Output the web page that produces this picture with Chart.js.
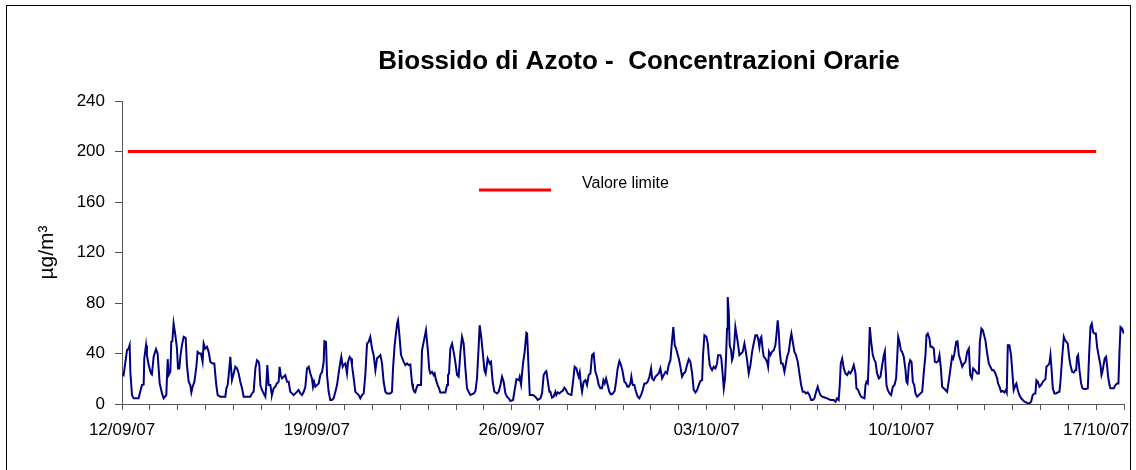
<!DOCTYPE html>
<html>
<head>
<meta charset="utf-8">
<script src="https://cdn.jsdelivr.net/npm/chart.js@4.4.0/dist/chart.umd.min.js"></script>
<style>
    html, body { margin: 0; padding: 0; background: #fff; }
    canvas { display: block; }
</style>
</head>
<body>
<canvas id="myChart" width="1136" height="470"></canvas>
<script>
const FONT = 'Arial, "Liberation Sans", sans-serif';

// hours since 12/09/07 00:00 (turning points of the trace)
const hours = [
    // week 1
    0.0,1.4,4.3,5.7,6.6,7.2,8.6,10.0,14.3,17.2,18.7,19.2,20.7,21.5,23.0,25.0,25.8,27.3,29.3,30.7,32.5,34.5,35.9,38.2,39.4,40.2,41.7,42.5,43.4,44.5,46.0,47.4,48.3,49.4,50.3,51.7,53.2,54.9,56.0,57.5,58.9,59.8,60.9,62.4,64.1,65.2,66.7,68.1,69.5,70.4,71.8,73.3,74.7,76.2,78.2,79.6,81.3,82.5,84.8,89.1,90.0,91.1,92.0,93.4,94.8,96.3,97.7,99.2,100.6,102.0,103.5,104.9,110.7,112.1,113.5,115.0,116.4,117.8,
    118.4,119.3,120.7,122.1,123.6,124.4,125.3,126.5,127.9,128.8,129.3,130.8,132.2,133.6,135.1,135.9,136.8,137.9,139.4,140.8,142.3,143.7,145.1,146.6,148.0,149.5,150.9,152.3,153.8,155.2,156.7,158.1,159.5,161.0,162.4,163.8,164.7,165.6,166.7,168.2,169.6,171.0,172.5,173.9,174.5,175.9,176.8,178.2,179.6,181.1,182.5,184.0,185.4,186.8,188.3,189.1,190.3,191.1,192.6,194.0,194.9,196.3,197.5,198.3,199.8,201.2,202.6,204.1,205.5,207.0,208.4,209.8,211.3,212.7,214.1,215.6,217.0,218.5,219.9,221.3,222.8,224.2,225.6,227.1,228.5,231.4,232.8,233.7,235.1,237.2,238.0,239.2,240.6,
    242.9,244.3,245.8,247.2,248.6,250.1,250.9,252.1,252.9,253.8,255.0,257.8,258.7,260.7,262.1,263.6,265.0,265.9,267.3,268.8,269.6,270.8,272.2,273.4,274.5,278.8,280.3,281.1,282.0,283.1,284.6,286.0,287.4,288.9,290.3,291.8,293.2,294.6,296.1,297.5,298.9,300.4,303.3,304.7,306.1,307.6,308.4,309.9,311.3,312.5,313.6,315.3,317.1,318.2,319.6,321.1,323.4,324.8,326.3,327.7,329.1,330.6,332.0,333.4,334.9,337.2,338.6,340.1,342.1,342.9,344.1,345.8,347.2,348.7,349.3,351.6,354.4,356.4,358.5,360.8,362.2,363.6,365.1,365.9,368.5,
    369.4,370.8,372.2,373.7,374.5,375.7,377.1,378.6,380.0,381.4,382.9,384.3,385.8,387.5,388.9,390.3,391.8,392.9,393.8,394.7,395.8,396.7,398.1,399.6,401.0,402.4,403.9,405.3,406.7,408.2,409.6,411.1,412.5,413.9,415.1,416.2,417.4,418.8,420.2,421.7,423.4,424.8,426.0,427.4,428.9,430.3,431.7,433.2,434.6,435.8,436.9,438.4,439.2,440.4,441.8,443.2,444.7,446.1,447.6,449.0,450.4,451.9,453.3,454.8,456.2,457.1,458.5,459.9,461.4,462.8,464.2,465.7,467.1,468.6,470.0,471.4,472.9,474.3,475.4,476.6,477.8,478.9,480.1,481.5,482.9,484.4,485.8,487.2,488.7,490.1,491.6,493.0,
    493.6,494.4,495.9,497.3,498.7,500.2,501.0,502.2,503.9,505.1,505.9,506.8,507.9,508.8,510.2,511.7,513.1,514.0,516.0,516.8,518.0,518.9,520.0,520.9,521.7,522.3,523.2,524.0,525.2,526.0,526.9,528.0,528.9,529.8,530.9,532.4,533.8,535.2,536.7,537.5,539.0,540.4,541.9,543.3,544.7,546.2,547.6,548.5,549.6,550.5,551.3,552.5,553.4,554.8,556.2,557.1,557.9,559.1,560.5,562.0,563.4,564.3,565.4,566.3,567.2,568.3,569.7,571.2,572.0,573.5,574.9,576.4,577.2,578.4,579.8,581.2,582.7,584.1,585.6,587.0,588.4,589.9,591.3,592.7,594.2,595.6,597.1,598.5,599.9,601.1,602.2,603.7,606.5,609.4,610.9,613.7,615.2,616.6,618.0,
    618.9,619.8,621.0,622.4,623.8,625.3,626.7,628.1,629.6,631.0,632.5,633.3,634.8,635.9,637.3,638.8,640.2,641.1,641.9,643.1,643.9,644.8,646.0,647.4,648.8,649.7,651.1,652.6,654.0,655.5,656.9,657.8,658.3,659.2,660.3,661.8,663.2,664.7,666.1,667.5,668.4,669.3,670.4,671.6,672.7,674.1,675.6,676.4,677.3,678.5,679.6,680.8,681.9,683.1,684.2,685.6,687.1,688.5,690.0,691.4,692.8,693.7,694.8,696.3,697.1,698.6,700.0,700.9,702.3,703.8,704.9,706.1,707.2,708.6,710.1,711.5,713.0,714.4,715.8,716.7,717.8,719.3,720.4,721.6,723.0,724.5,725.9,727.3,728.8,730.2,731.4,732.8,733.9,735.4,737.4,738.8,739.7,741.1,742.3,743.7,
    744.5,745.4,746.5,747.4,748.8,750.3,751.7,753.1,754.6,755.4,756.6,758.0,759.5,760.9,762.1,762.9,763.8,765.2,766.6,767.8,768.9,770.4,771.2,772.4,773.8,775.3,776.7,778.2,779.6,781.0,782.5,783.9,785.3,786.8,787.6,788.5,789.7,791.1,792.5,794.0,795.4,796.3,797.1,798.6,799.7,800.6,801.4,802.6,804.0,805.5,806.9,808.3,809.2,810.6,812.1,813.2,814.4,815.5,816.7,817.8,819.3,820.7,821.9,822.7,823.6,824.4,825.6,827.0,828.2,829.6,831.1,832.8,833.9,835.1,836.2,837.4,838.5,839.7,840.8,842.3,843.7,844.6,845.4,846.6,847.4,848.6,849.5,850.3,851.5,852.3,853.8,855.2,856.6,858.1,859.2,860.1,861.0,862.4,863.3,864.0
];

// NO2 hourly concentration, µg/m3
const no2Values = [
    24.2,22.9,42.6,43.9,46.6,25.5,7.1,4.5,4.5,15,15.5,36,46.6,38.7,30.8,24.2,23.4,37.4,43.4,40,16.3,8.4,4.5,7.1,35.5,22.9,25.5,49.2,49.7,63.7,54.5,43.9,28.2,28.2,37.4,46.6,53.2,52.4,30.8,17.6,15,9.2,13.7,17.6,29.5,41.3,40,40,33.4,47.9,43.9,45.3,41.3,33.4,32.1,32.1,15,7.1,5.8,5.8,12.4,15,22.9,37.4,18.9,24.2,29.5,28.2,24.2,17.6,12.4,5.8,5.8,8.4,9.7,28.2,34.7,33.4,
    30.8,15,11.1,8.4,5.8,15,30.8,15,15,9.7,7.1,12.4,13.7,16.3,17.6,29.5,22.9,20.3,21.6,22.9,17.6,17.6,9.7,8.4,7.1,8.4,9.7,11.1,8.4,7.1,9.7,13.7,28.2,29.5,24.2,20.3,13.7,17.6,13.7,15,16.3,22.9,25.5,33.4,49.7,49.2,22.9,9.7,3.2,3.2,4.5,9.7,15,24.2,33.4,37.4,29.5,30.8,32.1,24.2,33.4,37.4,36,30.8,20.3,9.7,8.4,7.1,4.5,7.1,8.4,22.9,47.9,49.2,53.2,43.9,38.7,26.8,36,37.4,38.7,32.1,17.6,9.7,8.4,8.4,9.7,28.2,46.6,63.7,66.3,54.5,38.7,
    33.4,30.8,32.1,30.8,31.3,16.3,12.4,9.7,9.2,12.4,15,15,42.6,51.8,58.4,43.9,26.8,24.2,25.5,22.9,24.2,18.9,15,12.4,9.2,9.2,15,22.9,24.2,43.9,47.9,41.3,33.4,22.9,21.6,41.3,53.2,47.9,28.2,12.4,9.7,7.1,8.4,10,20,46.6,62.4,51.8,38.7,26.8,24.2,36,32.1,33.4,17.6,9.7,8.4,9.7,15,21.6,17.6,8.4,5.8,4.5,2.4,3.2,11.1,19.7,18.9,21.6,15.5,32.1,41.3,56.3,55.8,7.1,7.1,5.8,3.2,4.5,8.4,22.9,25.5,26.1,9.7,
    9.7,5,5.8,9.7,7.1,9.2,8.4,9.7,10.3,12.9,11.1,8.4,7.6,7.1,17.6,29.5,28.2,24.2,21.6,25,15,9.7,17.6,18.9,15,22.9,24.2,38.7,40,25.5,21.6,15,12.4,12.4,18.9,16.3,20.3,15,9.7,7.6,8.4,10.3,17.6,28.2,34,30.8,25.5,17.6,16.3,13.7,13.7,16.3,21.6,15,15,9.7,5.8,4.5,7.1,11.1,16.3,16.3,17.6,21.6,28.2,20.3,18.9,21.6,22.9,24.2,28.2,20.3,22.9,25.5,24.2,30.8,34.7,50.5,61,46.6,43.9,40,36,29.5,21.6,24.2,25.5,30.8,35.5,33.4,24.2,11.1,
    10.3,9.2,11.1,15,18.2,18.9,38.7,54.5,53.2,47.9,38.7,30.8,28.2,26.8,29.5,28.2,32.1,38.7,38.7,36,22.9,12.4,20.3,38.7,59.7,84.7,72.9,46.6,42.6,34.7,37.4,47.9,61,55.8,49.2,38.7,40,41.3,47.9,43.9,34.7,24.2,30.8,41.3,47.9,54.5,54.5,51.8,45.3,51.8,53.2,42.6,37.4,36,33.4,29.5,41.3,38.7,41.3,42.6,46.6,54.5,66.3,57,41.3,32.1,32.1,25.5,29.5,37.4,41.3,51.8,55.8,49.2,41.3,38.7,33.4,24.2,15,9.7,9.7,8.4,9.2,7.1,3.2,3.2,4.5,9.7,13.7,9.7,7.1,5.8,5,3.9,3.2,3.2,1.8,4.5,3.2,
    15,32.1,36,28.2,24.2,22.9,25.5,24.2,26.8,30.8,24.2,12.4,11.1,8.4,5.8,5,4.5,15,17.6,16.3,34.7,61,49.2,38.7,34.7,33.4,24.2,20.3,21.6,30.8,38.7,41.8,30.8,15,11.1,8.4,7.1,13.7,15,20.3,36,53.2,49.2,42.6,41.3,37.4,26.8,17.6,16.3,30.8,34.7,33.4,17.6,15,8.4,5.8,7.1,8.4,9.7,25.5,38.7,54.5,55.8,51.8,45.3,45.3,43.9,33.4,32.9,33.9,38.7,28.2,13.7,12.4,11.1,9.7,18.9,28.2,37.4,36,40,49.2,49.7,38.7,34.7,29.5,32.1,33.4,41.3,43.9,22.9,20.3,28.2,26.8,24.2,24.2,49.2,59.7,58.4,53.2,
    50.5,43.9,37.4,32.1,29.5,26.8,26.8,24.2,20.3,16.3,13.7,9.7,10.3,9.2,11.1,9.2,46.6,46.6,38.7,24.2,11.1,15,16.3,11.1,7.1,4.5,3.2,1.8,1.3,0.5,0.5,1.8,7.1,8.4,8.4,18.9,17.6,13.7,15,17.6,18.9,19.7,29.5,30.8,32.1,38.7,29.5,12.4,8.4,8.4,9.2,9.7,17.6,36,53.2,50.5,49.2,47.9,37.4,30.8,25.5,24.9,26.8,26.8,37.4,38.7,26.8,16.3,12.4,11.8,11.8,12.4,38.7,61,63.7,57,55.8,55.8,45.3,37.4,30.8,22.9,25.5,32.1,36,37.4,29.5,21.6,15,12.4,12.4,12.4,15,16.3,16.3,41.3,61,59.7,57,55.8
];

// limit value line
const limitHours = [5, 840];
const limitValues = [200, 200];

// one label per week on the time axis
const weekLabels = ['12/09/07', '19/09/07', '26/09/07', '03/10/07', '10/10/07', '17/10/07'];

const TITLE = 'Biossido di Azoto -  Concentrazioni Orarie';
const LIMIT_LABEL = 'Valore limite';

// frame, title and the small in-plot legend
const decorations = {
    id: 'decorations',
    afterDraw(c) {
        const g = c.ctx;
        g.save();
        g.strokeStyle = '#000';
        g.lineWidth = 1;
        g.strokeRect(6.5, 5.5, 1124, 480);

        g.fillStyle = '#000';
        g.font = `bold 26px ${FONT}`;
        g.textAlign = 'center';
        g.textBaseline = 'middle';
        g.fillText(TITLE, 639, 62);

        g.strokeStyle = '#ff0000';
        g.lineWidth = 3;
        g.beginPath();
        g.moveTo(479, 190);
        g.lineTo(551, 190);
        g.stroke();

        g.font = `16px ${FONT}`;
        g.textAlign = 'left';
        g.fillText(LIMIT_LABEL, 582, 184);
        g.restore();
    }
};

const ctx = document.getElementById('myChart').getContext('2d');
const chart = new Chart(ctx, {
    type: 'line',
    data: {
        datasets: [
            {
                label: 'NO2',
                data: hours.map((h, i) => ({x: h, y: no2Values[i]})),
                borderColor: '#000080',
                borderWidth: 2,
                pointRadius: 0,
                tension: 0
            },
            {
                label: LIMIT_LABEL,
                data: limitHours.map((h, i) => ({x: h, y: limitValues[i]})),
                borderColor: '#ff0000',
                borderWidth: 3,
                pointRadius: 0
            }
        ]
    },
    options: {
        responsive: false,
        animation: false,
        layout: { padding: { top: 101, right: 12, left: 0, bottom: 0 } },
        plugins: { legend: { display: false }, tooltip: { enabled: false }, title: { display: false } },
        scales: {
            x: {
                type: 'linear',
                min: 0,
                max: 864,
                afterFit: s => { s.height = 66; },
                border: { color: '#555', width: 1 },
                grid: { drawOnChartArea: false, tickLength: 6, color: '#555' },
                ticks: {
                    stepSize: 24,
                    autoSkip: false,
                    maxRotation: 0,
                    padding: 10,
                    color: '#000',
                    font: { size: 17, family: FONT },
                    callback: v => (v % 168 === 0 ? weekLabels[v / 168] : '')
                }
            },
            y: {
                min: 0,
                max: 240,
                afterFit: s => { s.width = 122; },
                border: { color: '#555', width: 1 },
                grid: { drawOnChartArea: false, tickLength: 7, color: '#555' },
                ticks: { stepSize: 40, padding: 10, color: '#000', font: { size: 17, family: FONT } },
                title: {
                    display: true,
                    text: 'µg/m³',
                    color: '#000',
                    font: { size: 21, family: FONT },
                    padding: { top: 35 }
                }
            }
        }
    },
    plugins: [decorations]
});
</script>
</body>
</html>
